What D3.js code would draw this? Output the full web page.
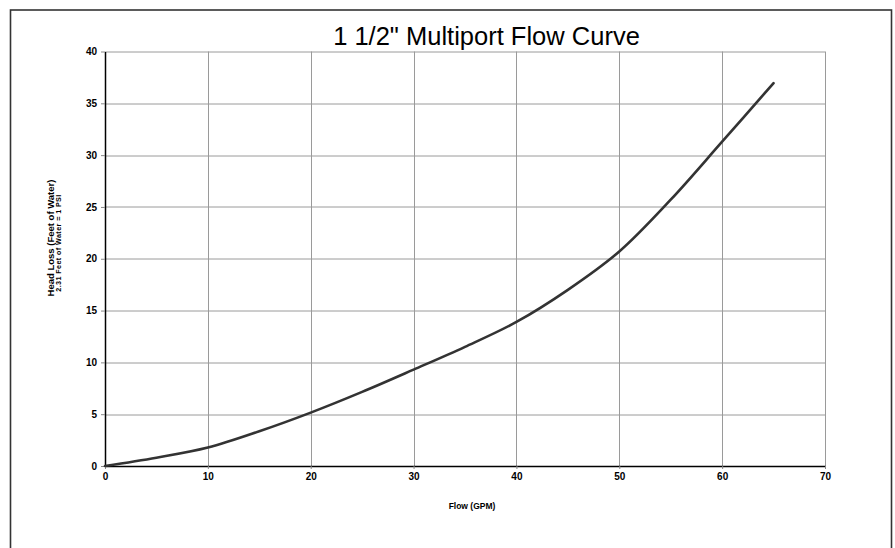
<!DOCTYPE html>
<html>
<head>
<meta charset="utf-8">
<script src="https://cdn.jsdelivr.net/npm/d3@7"></script>
<style>
  body { margin: 0; background: #fff; }
  svg { font-family: "Liberation Sans", Arial, sans-serif; }
</style>
</head>
<body>
<div id="chart"></div>
<script>
// flow (GPM) vs head loss (feet of water)
var flow = [0, 5, 10, 15, 20, 25, 30, 35, 40, 45, 50, 55, 60, 65];
var headLoss = [0, 0.8, 1.78, 3.35, 5.15, 7.15, 9.3, 11.5, 13.9, 17.0, 20.7, 25.7, 31.3, 36.95];
var xTicks = [0, 10, 20, 30, 40, 50, 60, 70];
var yTicks = [0, 5, 10, 15, 20, 25, 30, 35, 40];

var W = 895, H = 548;
var margin = {top: 51.5, right: 70, bottom: 82, left: 105},
    width = 825 - margin.left,
    height = 466 - margin.top;

var root = d3.select("#chart")
  .append("svg")
    .attr("width", W)
    .attr("height", H);

// outer frame (runs off the bottom of the picture)
root.append("rect")
    .attr("x", 10.5)
    .attr("y", 10)
    .attr("width", 881)
    .attr("height", 560)
    .attr("fill", "none")
    .attr("stroke", "#333")
    .attr("stroke-width", 1.6);

root.append("text")
    .attr("x", 486.5)
    .attr("y", 45)
    .attr("text-anchor", "middle")
    .style("font-size", "25.5px")
    .text("1 1/2\" Multiport Flow Curve");

var svg = root.append("g")
    .attr("transform", "translate(" + margin.left + "," + margin.top + ")");

var x = d3.scaleLinear()
  .domain([0, 70])
  .range([0, width]);

var y = d3.scaleLinear()
  .domain([0, 40])
  .range([height, 0]);

// gridlines
svg.append("g")
  .selectAll("line")
  .data(xTicks.slice(1))
  .enter()
  .append("line")
    .attr("x1", function (d) { return Math.round(x(d)) + 0.5; })
    .attr("x2", function (d) { return Math.round(x(d)) + 0.5; })
    .attr("y1", 0)
    .attr("y2", height)
    .attr("stroke", "#9a9a9a")
    .attr("stroke-width", 1);

svg.append("g")
  .selectAll("line")
  .data(yTicks.slice(1))
  .enter()
  .append("line")
    .attr("x1", 0)
    .attr("x2", width)
    .attr("y1", function (d) { return Math.round(y(d)) + 0.5; })
    .attr("y2", function (d) { return Math.round(y(d)) + 0.5; })
    .attr("stroke", "#9a9a9a")
    .attr("stroke-width", 1);

// axes
var xAxis = svg.append("g")
    .attr("transform", "translate(0," + height + ")")
    .call(d3.axisBottom(x).tickValues(xTicks).tickSizeInner(3).tickSizeOuter(0).tickPadding(4));

var yAxis = svg.append("g")
    .call(d3.axisLeft(y).tickValues(yTicks).tickSizeInner(4).tickSizeOuter(0).tickPadding(4));

[xAxis, yAxis].forEach(function (a) {
  a.select(".domain").attr("stroke", "#000").attr("stroke-width", 1.5);
  a.selectAll(".tick line").attr("stroke", "#888");
  a.selectAll("text")
    .style("font-family", "'Liberation Sans', Arial, sans-serif")
    .style("font-size", "10px")
    .style("font-weight", "bold")
    .attr("fill", "#000");
});

// curve
svg.append("path")
  .datum(flow.map(function (f, i) { return [f, headLoss[i]]; }))
    .attr("fill", "none")
    .attr("stroke", "#333")
    .attr("stroke-width", 2.6)
    .attr("stroke-linecap", "round")
    .attr("d", d3.line()
      .x(function (d) { return x(d[0]); })
      .y(function (d) { return y(d[1]); })
      .curve(d3.curveCatmullRom.alpha(0.5)));

// axis titles
root.append("text")
    .attr("x", 472)
    .attr("y", 509)
    .attr("text-anchor", "middle")
    .style("font-size", "8.5px")
    .style("font-weight", "bold")
    .text("Flow (GPM)");

root.append("text")
    .attr("transform", "translate(54,238) rotate(-90)")
    .attr("text-anchor", "middle")
    .style("font-size", "9.5px")
    .style("font-weight", "bold")
    .text("Head Loss (Feet of Water)");

root.append("text")
    .attr("transform", "translate(61,243) rotate(-90)")
    .attr("text-anchor", "middle")
    .style("font-size", "7.2px")
    .style("font-weight", "bold")
    .style("letter-spacing", "0.4px")
    .text("2.31 Feet of Water = 1 PSI");
</script>
</body>
</html>
